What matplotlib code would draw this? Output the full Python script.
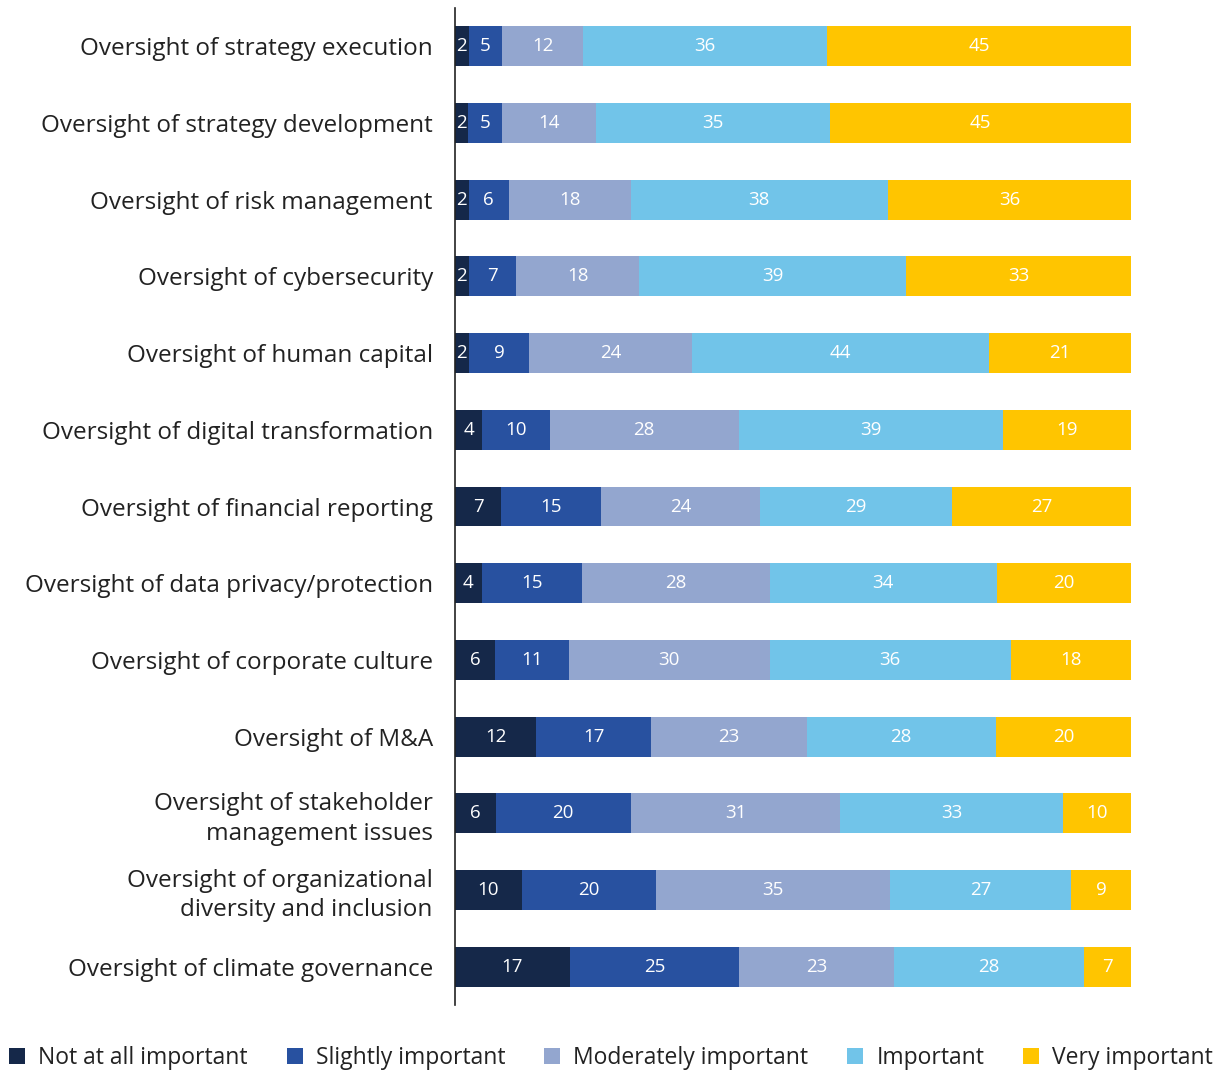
import numpy as np
import matplotlib.pyplot as plt
from matplotlib.patches import Patch

plt.rcParams['font.family'] = ['Open Sans', 'DejaVu Sans']

categories = [
    'Oversight of strategy execution',
    'Oversight of strategy development',
    'Oversight of risk management',
    'Oversight of cybersecurity',
    'Oversight of human capital',
    'Oversight of digital transformation',
    'Oversight of financial reporting',
    'Oversight of data privacy/protection',
    'Oversight of corporate culture',
    'Oversight of M&A',
    'Oversight of stakeholder\nmanagement issues',
    'Oversight of organizational\ndiversity and inclusion',
    'Oversight of climate governance',
]
series = ['Not at all important', 'Slightly important', 'Moderately important',
          'Important', 'Very important']
not_at_all = [2, 2, 2, 2, 2, 4, 7, 4, 6, 12, 6, 10, 17]
slightly = [5, 5, 6, 7, 9, 10, 15, 15, 11, 17, 20, 20, 25]
moderately = [12, 14, 18, 18, 24, 28, 24, 28, 30, 23, 31, 35, 23]
important = [36, 35, 38, 39, 44, 39, 29, 34, 36, 28, 33, 27, 28]
very = [45, 45, 36, 33, 21, 19, 27, 20, 18, 20, 10, 9, 7]

colors = ['#152849', '#2851a0', '#93a6cf', '#71c4e9', '#ffc500']

data = np.array([not_at_all, slightly, moderately, important, very], dtype=float)
shares = data / data.sum(axis=0) * 100

fig = plt.figure(figsize=(12.22, 10.72), dpi=100)
ax = fig.add_axes([455 / 1222, 1 - 1005 / 1072, (1131 - 455) / 1222, 997 / 1072])

y = np.arange(len(categories))
left = np.zeros(len(categories))
for i, name in enumerate(series):
    ax.barh(y, shares[i], left=left, height=0.52, color=colors[i], label=name)
    for j in range(len(categories)):
        ax.text(left[j] + shares[i][j] / 2, y[j], f'{int(data[i][j])}',
                ha='center', va='center', color='white', fontsize=13.5)
    left += shares[i]

ax.set_xlim(0, 100)
ax.set_ylim(len(categories) - 0.5, -0.5)
ax.set_yticks(y)
ax.set_yticklabels(categories, fontsize=17.5, color='#222222', linespacing=1.3)
ax.tick_params(axis='y', length=0, pad=16)
ax.set_xticks([])
for s in ['top', 'right', 'bottom']:
    ax.spines[s].set_visible(False)
ax.spines['left'].set_color('#222222')
ax.spines['left'].set_linewidth(1.2)

handles = [Patch(facecolor=c, label=s) for c, s in zip(colors, series)]
fig.legend(handles=handles, loc='center', bbox_to_anchor=(0.5, 1 - 1058 / 1072),
           ncol=5, frameon=False, fontsize=16.5, handlelength=0.7, handleheight=0.7,
           handletextpad=0.57, columnspacing=1.7, borderpad=0, labelcolor='#222222')

fig.savefig('out.png', dpi=100)
